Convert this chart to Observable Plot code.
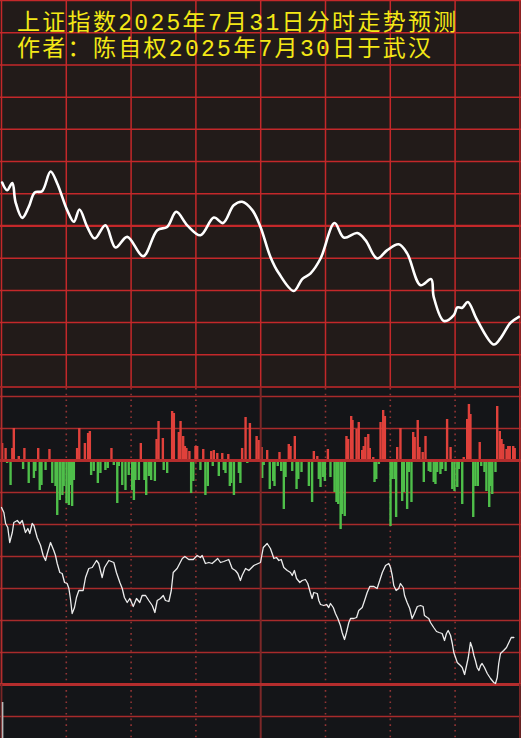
<!DOCTYPE html>
<html>
<head>
<meta charset="utf-8">
<script src="https://cdn.jsdelivr.net/npm/d3@7"></script>
<script src="https://cdn.jsdelivr.net/npm/@observablehq/plot@0.6"></script>
<style>
  html, body { margin: 0; padding: 0; background: #ffffff; }
  #wrap { position: relative; width: 521px; height: 738px; overflow: hidden; }
  #wrap svg { display: block; }
  #title {
    position: absolute; left: 17px; top: 11px;
    color: #f4e816;
    font-family: "Liberation Mono", "Noto Sans CJK SC", sans-serif;
    font-size: 23px; line-height: 26px; letter-spacing: 2.3px;
    white-space: nowrap;
  }
</style>
</head>
<body>
<div id="wrap">
  <div id="top"></div>
  <div id="bottom"></div>
  <div id="title">
    <div>上证指数2025年7月31日分时走势预测</div>
    <div>作者：陈自权2025年7月30日于武汉</div>
  </div>
</div>
<script>
// ---------- data ----------
// x axis: trading minutes 0..240 ; grid every 30 minutes
const gridMinutes = [0, 30, 60, 90, 120, 150, 180, 210, 240];

// upper panel: predicted intraday curve (grid units, 12 divisions)
const topGridValues = [0, 1, 2, 3, 4, 6, 7, 8, 9, 10, 11, 12];
const topMidValue = [5];
const topMinute = [0.3, 2.6, 5.0, 6.5, 9.6, 12.6, 15.4, 18.8, 22.7, 25.8, 30.4, 33.5, 36.1, 39.7, 43.2, 48.1, 52.8, 58.2, 65.6, 72.1, 76.7, 80.9, 86.0, 92.1, 98.3, 102.6, 107.5, 111.4, 116.1, 119.9, 124.5, 128.4, 135.3, 139.2, 143.1, 147.7, 154.2, 158.5, 164.7, 168.5, 173.9, 178.6, 183.9, 187.8, 194.0, 198.9, 200.1, 204.8, 209.4, 211.0, 213.3, 215.9, 220.2, 227.9, 231.0, 235.6, 239.5];
const topValue = [6.35, 6.11, 6.33, 5.74, 5.25, 5.59, 6.04, 6.08, 6.69, 6.32, 5.49, 5.13, 5.51, 4.97, 4.61, 5.02, 4.33, 4.66, 4.06, 4.87, 4.97, 5.44, 5.02, 4.71, 5.26, 5.09, 5.64, 5.75, 5.49, 4.97, 4.04, 3.53, 2.98, 3.35, 3.53, 3.99, 5.09, 4.64, 4.78, 4.56, 3.99, 4.25, 4.43, 4.15, 3.16, 3.35, 2.80, 2.05, 2.23, 2.47, 2.46, 2.64, 2.08, 1.32, 1.51, 1.99, 2.18];

// lower panel: flow bars around zero and a jagged index line (same units)
const lowGridValues = [64, 32, -32, -64, -96, -128, -160, -192, -256];
const lowHeavyValues = [0, -224];
const dottedMinutes = [30, 60, 90, 150, 180, 210];
const solidMinutes = [120];
const borderMinutes = [0, 240];

const redBarMinute = [0.3, 1.9, 5.0, 5.7, 8.0, 10.6, 17.0, 22.2, 35.0, 36.0, 38.6, 40.1, 40.9, 50.9, 64.5, 71.8, 72.7, 74.7, 79.0, 79.8, 82.1, 82.9, 84.1, 84.9, 85.6, 87.0, 89.8, 90.6, 93.4, 97.1, 98.3, 99.9, 102.2, 105.0, 111.4, 113.0, 115.0, 118.1, 119.1, 120.4, 123.0, 128.7, 133.0, 133.8, 135.8, 144.6, 146.2, 151.1, 159.7, 160.5, 161.9, 162.5, 164.4, 165.4, 167.0, 167.7, 168.5, 169.8, 170.5, 172.1, 175.5, 176.7, 177.5, 183.2, 184.7, 190.6, 191.3, 192.7, 193.5, 195.0, 196.3, 206.3, 207.9, 214.0, 215.6, 216.4, 217.1, 221.4, 229.5, 230.7, 231.5, 232.3, 233.8, 234.6, 235.3, 236.9, 237.6];
const redBarFlow = [17, 12, 12, 32, 4, 12, 12, 11, 12, 32, 17, 27, 29, 12, 17, 21, 39, 22, 49, 47, 28, 39, 24, 14, 12, 9, 14, 14, 11, 9, 10, 7, 7, 6, 12, 43, 37, 24, 20, 13, 10, 8, 16, 14, 24, 9, 4, 11, 24, 21, 44, 40, 31, 38, 10, 14, 23, 26, 12, 3, 38, 50, 44, 13, 32, 28, 23, 40, 13, 8, 24, 41, 13, 3, 41, 56, 46, 18, 54, 29, 21, 16, 11, 14, 14, 14, 12];

const greenBarMinute = [2.6, 4.2, 6.8, 10.0, 12.6, 15.0, 15.7, 17.7, 18.5, 20.4, 23.5, 25.0, 25.8, 27.0, 28.2, 28.8, 30.1, 31.2, 31.9, 32.7, 33.5, 41.5, 42.7, 44.6, 45.8, 48.1, 49.2, 52.0, 53.6, 54.3, 55.9, 57.4, 58.9, 60.5, 61.3, 62.0, 63.6, 66.2, 67.0, 68.2, 69.3, 71.0, 75.1, 76.7, 87.8, 88.8, 92.1, 94.4, 95.5, 97.8, 100.6, 102.9, 103.7, 105.7, 106.3, 107.6, 109.9, 110.6, 113.8, 120.7, 121.4, 124.2, 125.8, 126.4, 127.9, 129.5, 130.7, 131.5, 134.6, 136.6, 137.4, 138.9, 142.3, 143.8, 146.9, 147.7, 148.9, 149.7, 152.3, 154.2, 155.1, 155.9, 157.0, 157.7, 158.9, 163.9, 172.7, 173.5, 174.7, 180.1, 180.9, 182.0, 182.7, 185.5, 186.3, 187.8, 188.6, 189.8, 195.5, 197.8, 198.6, 200.1, 200.9, 201.7, 203.2, 204.0, 205.6, 208.7, 209.7, 211.0, 211.7, 213.3, 218.4, 219.4, 220.5, 222.1, 223.6, 224.5, 225.8, 226.4, 227.2, 228.7];
const greenBarFlow = [-3, -25, -1, -9, -23, -18, -11, -30, -25, -10, -23, -26, -55, -40, -35, -26, -43, -45, -25, -46, -20, -15, -11, -23, -13, -10, -8, -5, -43, -6, -25, -30, -15, -30, -40, -20, -20, -20, -35, -16, -20, -21, -10, -13, -33, -21, -10, -35, -26, -6, -16, -10, -13, -26, -23, -35, -13, -23, -3, -18, -5, -29, -21, -26, -6, -11, -49, -17, -11, -29, -19, -12, -26, -42, -19, -27, -17, -21, -17, -32, -42, -44, -69, -54, -56, -2, -22, -19, -4, -66, -19, -19, -57, -41, -32, -49, -12, -42, -22, -11, -12, -22, -24, -12, -14, -9, -11, -29, -31, -27, -9, -44, -57, -26, -26, -6, -12, -31, -47, -26, -34, -12];

const lowMinute = [0, 1.1, 1.9, 2.9, 3.8, 5.0, 5.7, 7.3, 8.5, 9.6, 11.1, 12.2, 13.1, 14.2, 15.0, 16.5, 18.1, 19.3, 20.4, 21.2, 22.7, 24.2, 25.0, 25.8, 27.0, 28.1, 29.2, 30.4, 31.2, 31.9, 32.7, 33.8, 34.7, 35.8, 37.8, 38.9, 40.4, 42.0, 44.0, 45.0, 45.8, 46.6, 47.7, 49.7, 52.0, 53.2, 54.8, 55.9, 56.9, 58.2, 59.4, 61.0, 62.5, 64.0, 65.1, 66.7, 68.2, 69.8, 71.0, 72.1, 73.6, 74.9, 75.9, 77.5, 78.6, 79.5, 81.3, 83.7, 84.9, 86.7, 88.8, 90.6, 92.1, 92.9, 94.4, 96.0, 97.5, 99.1, 100.1, 101.4, 102.9, 105.2, 106.8, 108.3, 109.4, 110.6, 111.4, 113.0, 114.5, 116.8, 119.9, 121.2, 123.0, 124.5, 126.1, 127.3, 128.4, 129.5, 130.7, 132.3, 133.8, 134.6, 135.6, 136.6, 138.1, 139.2, 140.7, 141.8, 143.1, 143.8, 144.6, 146.2, 146.9, 147.7, 149.2, 150.5, 151.5, 152.3, 153.6, 154.6, 155.7, 156.9, 157.7, 158.8, 159.7, 160.8, 161.6, 163.1, 164.4, 165.4, 167.0, 168.1, 169.3, 170.5, 172.4, 173.9, 175.1, 176.3, 177.8, 179.3, 180.1, 180.9, 181.6, 182.7, 183.9, 184.7, 186.0, 186.6, 187.8, 189.0, 190.1, 191.2, 192.5, 194.0, 195.2, 195.8, 197.1, 197.8, 198.6, 200.1, 201.4, 202.6, 204.0, 205.1, 206.0, 206.8, 207.9, 208.7, 209.4, 211.0, 212.5, 213.3, 214.4, 215.3, 216.1, 217.1, 217.9, 218.7, 219.4, 220.2, 221.0, 221.8, 222.5, 223.6, 224.9, 226.4, 227.9, 228.7, 229.5, 230.2, 231.0, 232.5, 233.8, 234.9, 236.0, 237.2];
const lowValue = [-47, -52, -63, -67, -82, -72, -62, -60, -63, -60, -72, -68, -73, -63, -65, -77, -85, -95, -100, -93, -82, -90, -95, -103, -112, -113, -122, -123, -128, -138, -153, -147, -137, -130, -130, -117, -108, -107, -100, -103, -110, -117, -107, -100, -102, -112, -122, -128, -137, -142, -138, -146, -138, -142, -135, -135, -140, -145, -152, -140, -138, -135, -140, -141, -130, -112, -108, -98, -96, -99, -99, -95, -97, -95, -103, -102, -103, -100, -98, -102, -101, -99, -108, -110, -113, -120, -115, -108, -110, -105, -102, -87, -83, -88, -98, -97, -100, -99, -107, -110, -112, -115, -110, -118, -122, -120, -119, -123, -133, -138, -132, -133, -140, -144, -145, -144, -147, -143, -147, -153, -158, -165, -172, -179, -172, -162, -158, -158, -157, -150, -147, -140, -132, -126, -126, -128, -120, -112, -105, -103, -107, -115, -125, -130, -128, -123, -127, -135, -142, -148, -158, -153, -146, -145, -146, -155, -157, -158, -162, -167, -171, -172, -173, -180, -173, -170, -175, -183, -192, -202, -205, -207, -214, -205, -197, -182, -187, -195, -200, -207, -210, -205, -203, -207, -213, -218, -222, -223, -217, -203, -193, -190, -187, -182, -177, -177];

// the short grey opening tick at the lower-left corner
const openingTick = [{minute: 0.5, from: -242, to: -278}];

// ---------- tables ----------
const topData = topMinute.map((m, i) => ({minute: m, value: topValue[i]}));
const lowData = lowMinute.map((m, i) => ({minute: m, value: lowValue[i]}));
const redBars = redBarMinute.map((m, i) => ({minute: m, flow: redBarFlow[i]}));
const greenBars = greenBarMinute.map((m, i) => ({minute: m, flow: greenBarFlow[i]}));

const RED_GRID = "#c4282a";
const LOW_GRID = "#a82b2b";

const topPlot = Plot.plot({
  width: 521, height: 388,
  marginTop: 0, marginBottom: 1.5, marginLeft: 1, marginRight: 1.6,
  x: {domain: [0, 240], axis: null},
  y: {domain: [0, 12], axis: null},
  style: {background: "#221b19", overflow: "hidden"},
  marks: [
    Plot.ruleY(topGridValues, {x1: -2, x2: 242, stroke: RED_GRID, strokeWidth: 1.5}),
    Plot.ruleY(topMidValue, {x1: -2, x2: 242, stroke: RED_GRID, strokeWidth: 2.2}),
    Plot.ruleX(gridMinutes, {stroke: RED_GRID, strokeWidth: 1.5}),
    Plot.line(topData, {x: "minute", y: "value", curve: "catmull-rom", stroke: "#ffffff", strokeWidth: 2.6})
  ]
});

const bottomPlot = Plot.plot({
  width: 521, height: 350,
  marginTop: 0, marginBottom: 0, marginLeft: 1, marginRight: 1.6,
  x: {domain: [0, 240], axis: null},
  y: {domain: [-278, 72], axis: null},
  style: {background: "#141518", overflow: "hidden"},
  marks: [
    Plot.ruleY(lowGridValues, {x1: -2, x2: 242, stroke: LOW_GRID, strokeWidth: 1.6}),
    Plot.ruleX(dottedMinutes, {stroke: "#923434", strokeWidth: 1.6, strokeDasharray: "1.6,4.1"}),
    Plot.ruleX(redBars, {x: "minute", y1: 0, y2: "flow", stroke: "#e0413b", strokeWidth: 2.4}),
    Plot.ruleX(greenBars, {x: "minute", y1: 0, y2: "flow", stroke: "#4fbf4a", strokeWidth: 2.4}),
    Plot.ruleX(solidMinutes, {stroke: "#7c2828", strokeWidth: 2}),
    Plot.ruleY(lowHeavyValues, {x1: -2, x2: 242, stroke: "#b42d2d", strokeWidth: 3}),
    Plot.ruleX(borderMinutes, {y1: -224, y2: 72, stroke: "#b42d2d", strokeWidth: 1.8}),
    Plot.ruleX(borderMinutes, {y1: -278, y2: -224, stroke: "#7a2626", strokeWidth: 1.8}),
    Plot.ruleX(openingTick, {x: "minute", y1: "from", y2: "to", stroke: "#b8b8b8", strokeWidth: 1.6}),
    Plot.line(lowData, {x: "minute", y: "value", stroke: "#ececec", strokeWidth: 1.3})
  ]
});

document.getElementById("top").appendChild(topPlot);
document.getElementById("bottom").appendChild(bottomPlot);
</script>
</body>
</html>
